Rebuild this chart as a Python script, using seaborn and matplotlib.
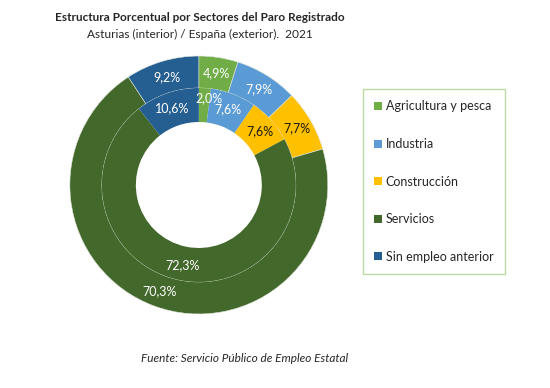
import matplotlib.pyplot as plt
import seaborn as sns
from matplotlib.patches import Patch

sectores = ['Agricultura y pesca', 'Industria', 'Construcción', 'Servicios', 'Sin empleo anterior']
espana = [4.9, 7.9, 7.7, 70.3, 9.2]      # anillo exterior
asturias = [2.0, 7.6, 7.6, 72.3, 10.6]   # anillo interior
colores = ['#70AD47', '#5B9BD5', '#FFC000', '#43682B', '#255E91']
color_texto = ['white', 'white', '#1a1a1a', 'white', 'white']

sns.set_theme(style='white')
plt.rcParams['font.family'] = ['Lato', 'DejaVu Sans']

fig = plt.figure(figsize=(5.5, 3.88), dpi=100)
ax = fig.add_axes([0.127, 0.1907, 0.469, 0.665])

def etiqueta(v):
    return f'{v:.1f}'.replace('.', ',') + '%'

R = 1.0
w_out = (129 - 97) / 129
w_in = (97 - 63) / 129

wed_o, txt_o = ax.pie(espana, colors=colores, radius=R, startangle=90, counterclock=False,
                      labels=[etiqueta(v) for v in espana], labeldistance=(R - w_out / 2) / R,
                      wedgeprops=dict(width=w_out, edgecolor='#dfe6da', linewidth=0.4))
r2 = R - w_out
wed_i, txt_i = ax.pie(asturias, colors=colores, radius=r2, startangle=90, counterclock=False,
                      labels=[etiqueta(v) for v in asturias], labeldistance=0.84,
                      wedgeprops=dict(width=w_in, edgecolor='none'))
for t, c in zip(txt_o, color_texto):
    t.set_color(c); t.set_fontsize(9); t.set_ha('center'); t.set_va('center')
for t, c in zip(txt_i, color_texto):
    t.set_color(c); t.set_fontsize(9); t.set_ha('center'); t.set_va('center')
# la etiqueta del sector pequeño se desplaza un poco, como en el original
x0, y0 = txt_i[0].get_position()
txt_i[0].set_position((x0 + 0.04, y0 + 0.04))
ax.set_xlim(-1, 1)
ax.set_ylim(-1, 1)
ax.set_aspect('equal')

fig.text(0.364, 0.955, 'Estructura Porcentual por Sectores del Paro Registrado',
         ha='center', va='center', fontsize=8.5, fontweight='bold')
fig.text(0.364, 0.912, 'Asturias (interior) / España (exterior).  2021',
         ha='center', va='center', fontsize=8.6)
fig.text(0.444, 0.075, 'Fuente: Servicio Público de Empleo Estatal',
         ha='center', va='center', fontsize=8.5, style='italic')

handles = [Patch(facecolor=c, edgecolor='none') for c in colores]
leg = fig.legend(handles, sectores, loc='center left', bbox_to_anchor=(0.66, 0.532),
                 fontsize=9, frameon=True, fancybox=False, labelspacing=2.05,
                 handlelength=0.6, handleheight=0.6, handletextpad=0.3,
                 borderpad=0.9, borderaxespad=0)
leg.get_frame().set_edgecolor('#A9D18E')
leg.get_frame().set_linewidth(1.0)

fig.savefig('out.png', dpi=100)
